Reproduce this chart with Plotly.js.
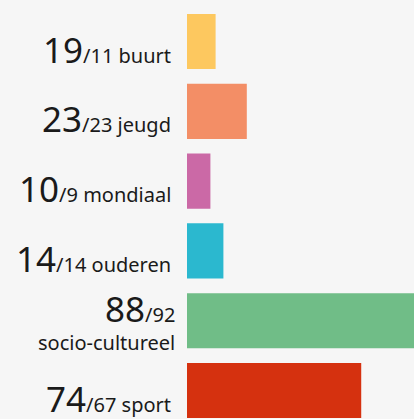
<!DOCTYPE html>
<html><head><meta charset="utf-8">
<script src="https://cdn.plot.ly/plotly-3.0.1.min.js"></script>
<style>html,body{margin:0;padding:0;background:#f6f6f6;}#chart{width:414px;height:419px;}</style>
</head><body><div id="chart"></div>
<script>
var categories = ["buurt", "jeugd", "mondiaal", "ouderen", "socio-cultureel", "sport"];
var bigValues = [19, 23, 10, 14, 88, 74];
var smallValues = [11, 23, 9, 14, 92, 67];
var colors = ["#fdc85f", "#f38e66", "#cb69a6", "#2bb8cf", "#70bd87", "#d5310f"];

var trace = {
  type: "bar", orientation: "h",
  x: smallValues, y: categories,
  marker: {color: colors, line: {width: 0}},
  width: 0.79, hoverinfo: "none"
};

var font = {size: 20, color: "#1a1a1a", family: "Noto Sans, sans-serif"};
var annotations = [];
categories.forEach(function(c, i){
  var twoLine = c.length > 12;
  var head = '<span style="font-size:35px">' + bigValues[i] + '</span>/' + smallValues[i];
  if (twoLine) {
    annotations.push({xref: "paper", yref: "y", x: -0.046, y: c, xanchor: "right", yanchor: "bottom",
      yshift: -13, text: head, showarrow: false, font: font});
    annotations.push({xref: "paper", yref: "y", x: -0.046, y: c, xanchor: "right", yanchor: "bottom",
      yshift: -37, text: c, showarrow: false, font: font});
  } else {
    annotations.push({xref: "paper", yref: "y", x: -0.06, y: c, xanchor: "right", yanchor: "bottom",
      yshift: -33, text: head + ' ' + c, showarrow: false, font: font});
  }
});

var layout = {
  width: 414, height: 419,
  margin: {l: 187, r: 0, t: 0, b: 0, pad: 0},
  paper_bgcolor: "#f6f6f6", plot_bgcolor: "#f6f6f6",
  showlegend: false,
  xaxis: {range: [0, 87.3], visible: false, fixedrange: true},
  yaxis: {type: "category", range: [5.408, -0.595], visible: false, fixedrange: true},
  annotations: annotations,
  font: {family: "Noto Sans, sans-serif"}
};

Plotly.newPlot("chart", [trace], layout, {staticPlot: true, displayModeBar: false});
</script></body></html>
